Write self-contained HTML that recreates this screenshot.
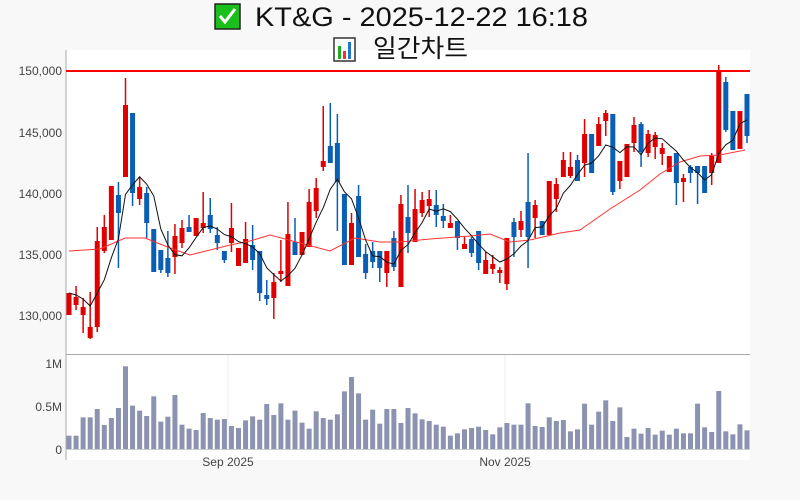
<!DOCTYPE html>
<html><head><meta charset="utf-8"><style>
body{margin:0;width:800px;height:500px;background:#f8f8f8;overflow:hidden;font-family:"Liberation Sans","Noto Sans CJK KR",sans-serif}
</style></head><body>
<svg id="s" width="800" height="500" xmlns="http://www.w3.org/2000/svg" style="position:absolute;left:0;top:0">
<rect x="66" y="50" width="684" height="410" fill="#fff"/>
<line x1="228" y1="355" x2="228" y2="450" stroke="#eee"/>
<line x1="505" y1="355" x2="505" y2="450" stroke="#eee"/>
<line x1="66" y1="50" x2="66" y2="460" stroke="#aaa"/>
<line x1="66" y1="354.5" x2="750" y2="354.5" stroke="#aaa"/>
<line x1="66" y1="449.5" x2="750" y2="449.5" stroke="#ccc"/>
<g font-size="12" fill="#444" text-anchor="end">
<text x="62" y="75">150,000</text><text x="62" y="137">145,000</text><text x="62" y="198">140,000</text>
<text x="62" y="259">135,000</text><text x="62" y="320">130,000</text>
<text x="62" y="368">1M</text><text x="62" y="411">0.5M</text><text x="62" y="454">0</text>
</g>
<g font-size="12" fill="#444" text-anchor="middle"><text x="228" y="466">Sep 2025</text><text x="505" y="466">Nov 2025</text></g>
<rect x="215" y="4" width="25" height="25" fill="#1bbf1b" stroke="#222" stroke-width="1.5"/>
<path d="M220 16 l5 6 l10 -13" stroke="#fff" stroke-width="3" fill="none"/>
<text x="255" y="26" font-size="27" textLength="333" lengthAdjust="spacingAndGlyphs" fill="#111">KT&amp;G - 2025-12-22 16:18</text>
<rect x="334" y="38" width="21" height="23" fill="#fff" stroke="#333" stroke-width="1.5"/>
<rect x="338" y="46" width="3" height="13" fill="#2a2"/><rect x="343" y="51" width="3" height="8" fill="#e33"/><rect x="348" y="42" width="3" height="17" fill="#27c"/>
<text x="373" y="57" font-size="25" textLength="95" lengthAdjust="spacingAndGlyphs" fill="#111">일간차트</text>
<g id="c"></g>
</svg>
<script>
var D=[
['r',293,315,293,315],['r',297,305,286,310],['r',307,315,298,333],['r',327,338,292,339],['r',241,327,227,332],['r',227,251,215,253],['r',186,240,186,240],['b',195,213,182,268],['r',105,177,78,177],['b',113,193,113,206],
['r',187,199,177,205],['b',193,223,187,238],['b',229,272,229,272],['b',250,270,250,273],['b',258,273,231,277],['r',236,257,224,274],['r',228,243,220,248],['b',227,232,215,232],['r',218,236,218,236],['r',223,228,192,233],
['b',215,229,198,233],['b',235,243,227,250],['b',251,260,251,263],['r',228,243,203,252],['r',248,266,248,266],['r',239,263,222,263],['b',245,260,225,270],['b',251,293,251,301],['b',295,299,280,305],['r',282,298,273,319],
['r',271,274,240,282],['r',234,286,202,286],['b',242,255,218,255],['r',232,255,232,255],['r',202,247,189,247],['r',188,211,178,218],['r',161,167,106,171],['b',146,163,103,163],['b',143,182,114,231],['b',194,265,194,265],
['r',223,265,213,265],['b',196,257,185,257],['b',254,273,244,279],['b',251,262,242,268],['b',251,268,251,282],['r',251,273,251,287],['b',238,267,231,271],['r',204,287,195,287],['b',217,233,185,253],['r',209,242,189,242],
['r',200,213,192,217],['r',199,206,190,217],['b',205,215,190,227],['b',216,221,204,228],['r',223,228,215,228],['b',221,238,221,250],['r',244,249,237,249],['b',239,253,237,257],['b',231,263,231,270],['r',260,274,252,274],
['r',264,269,255,274],['r',270,273,267,283],['r',238,284,238,290],['b',222,237,218,257],['r',221,230,211,237],['b',202,237,153,268],['r',205,218,200,238],['b',221,235,221,235],['r',181,235,181,235],['r',184,199,178,212],
['r',160,177,152,177],['r',167,176,152,178],['b',160,181,155,181],['r',134,163,119,177],['b',134,173,134,173],['r',124,146,117,146],['r',113,121,110,136],['b',114,192,114,195],['r',161,181,161,189],['r',144,177,144,177],
['r',125,143,117,152],['b',124,152,122,167],['r',134,153,130,157],['r',135,147,132,159],['r',148,154,143,165],['r',156,172,156,172],['b',153,183,153,205],['r',178,182,174,202],['b',167,173,165,183],['b',166,173,166,204],
['b',166,193,166,193],['r',156,173,153,185],['r',72,163,65,163],['b',82,130,77,132],['b',111,150,111,150],['r',111,149,111,149],['b',94,136,94,143]];
var V=[245,245,190,190,165,213,192,162,37,155,170,186,127,203,188,123,212,224,228,177,192,197,195,216,222,199,187,197,150,183,148,197,170,206,224,172,192,197,181,112,69,118,197,167,209,165,165,207,162,178,196,201,212,218,245,238,226,222,218,228,241,220,207,212,212,148,216,219,190,201,198,232,226,149,212,173,139,201,160,249,224,239,222,242,230,242,224,238,238,149,220,234,111,232,241,211,229];
var h='',cl=[],sx=(747-69)/(D.length-1);
D.forEach(function(d,i){var x=69+i*sx,col=d[0]=='r'?'#e00000':'#0a5fb4';
h+='<line x1="'+x+'" y1="'+d[3]+'" x2="'+x+'" y2="'+d[4]+'" stroke="'+col+'" stroke-width="1.5"/>';
h+='<rect x="'+(x-2.5)+'" y="'+d[1]+'" width="5" height="'+Math.max(2,d[2]-d[1])+'" fill="'+col+'"/>';
cl.push(d[0]=='r'?d[1]:d[2]);});
V.forEach(function(t,i){if(i>=D.length)return;var x=69+i*sx,hh=(285-t)/3;h+='<rect x="'+(x-2.5)+'" y="'+(449-hh)+'" width="5" height="'+hh+'" fill="#8c93b0"/>';});
var p=[];cl.forEach(function(c,i){var s=0,n=0;for(var j=Math.max(0,i-4);j<=i;j++){s+=cl[j];n++;}p.push((69+i*sx).toFixed(1)+','+(s/n).toFixed(1));});
var ma20='69,251 100,249 125,238 145,238 170,248 190,255 230,245 250,241 270,235 300,243 330,251 355,238 380,242 400,242 430,239 470,236 490,234 510,242 530,240 560,233 580,230 610,209 640,190 660,174 680,162 700,156 720,155 745,150';
h+='<polyline points="'+ma20+'" fill="none" stroke="#f33" stroke-width="1"/>';
h+='<polyline points="'+p.join(' ')+'" fill="none" stroke="#111" stroke-width="1"/>';
h+='<line x1="66" y1="71" x2="750" y2="71" stroke="#f00" stroke-width="2"/>';
document.getElementById('c').innerHTML=h;
</script>
</body></html>
